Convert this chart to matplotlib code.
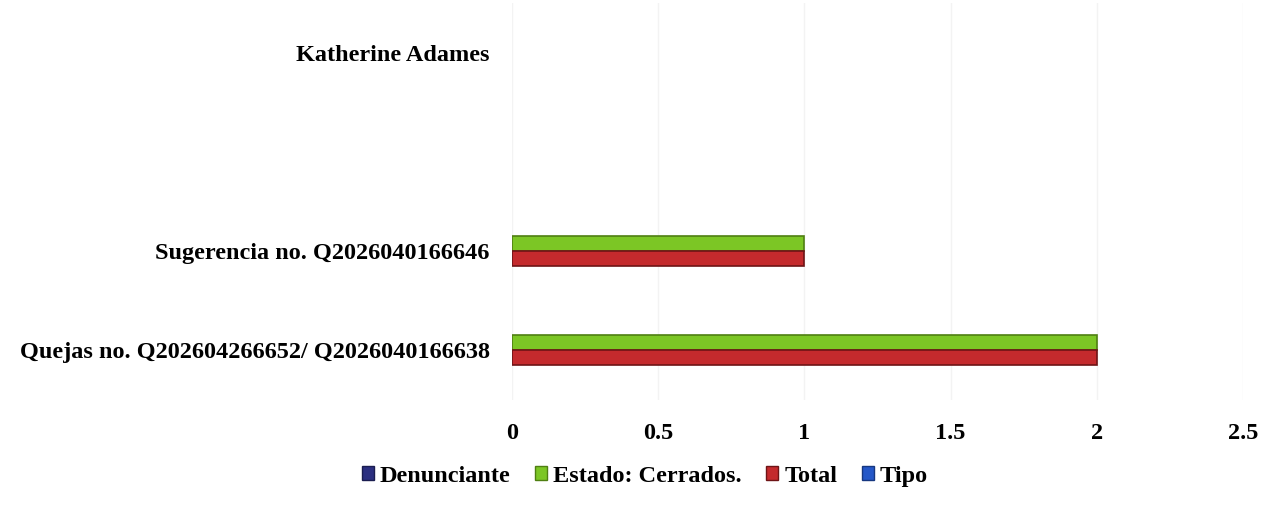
import numpy as np
import matplotlib.pyplot as plt
from matplotlib.patches import Patch

plt.rcParams['font.family'] = ['Liberation Serif', 'DejaVu Serif']
plt.rcParams['font.weight'] = 'bold'
plt.rcParams['font.size'] = 17.5

categories = ['Quejas no. Q202604266652/ Q2026040166638',
              'Sugerencia no. Q2026040166646',
              '',
              'Katherine Adames']
series = ['Denunciante', 'Estado: Cerrados.', 'Total', 'Tipo']
# empty cells in the source chart -> nan (no bar drawn)
denunciante = [np.nan, np.nan, np.nan, np.nan]
estado = [2, 1, np.nan, np.nan]
total = [2, 1, np.nan, np.nan]
tipo = [np.nan, np.nan, np.nan, np.nan]
colors = ['#2b2f80', '#7cc625', '#c42a2d', '#2457c8']
edges = ['#1a1d50', '#4f7f12', '#6e1416', '#163780']

fig = plt.figure(figsize=(12.82, 5.13), dpi=100)
ax = fig.add_axes([0.3994, 0.2212, 0.5702, 0.772])

y = np.arange(len(categories))
h = 0.15
ax.barh(y + h / 2, estado, height=h, color=colors[1], edgecolor=edges[1], linewidth=1.2)
ax.barh(y - h / 2, total, height=h, color=colors[2], edgecolor=edges[2], linewidth=1.2)

ax.set_xlim(0, 2.5)
ax.set_ylim(-0.5, len(categories) - 0.5)
ax.set_xticks([0, 0.5, 1, 1.5, 2, 2.5])
ax.set_xticklabels(['0', '0.5', '1', '1.5', '2', '2.5'])
ax.set_yticks(y)
ax.set_yticklabels(categories)
ax.tick_params(length=0)
ax.tick_params(axis='x', pad=17)
ax.tick_params(axis='y', pad=16)
ax.grid(axis='x', color='#f3f3f3', linewidth=1)
ax.set_axisbelow(True)
for s in ax.spines.values():
    s.set_visible(False)

handles = [Patch(facecolor=c, edgecolor=e) for c, e in zip(colors, edges)]
fig.legend(handles, series, loc='center', bbox_to_anchor=(0.503, 0.072), ncol=4,
           frameon=False, handlelength=0.5, handleheight=0.5, handletextpad=0.25,
           columnspacing=1.0)

plt.savefig('out.png', dpi=100)
